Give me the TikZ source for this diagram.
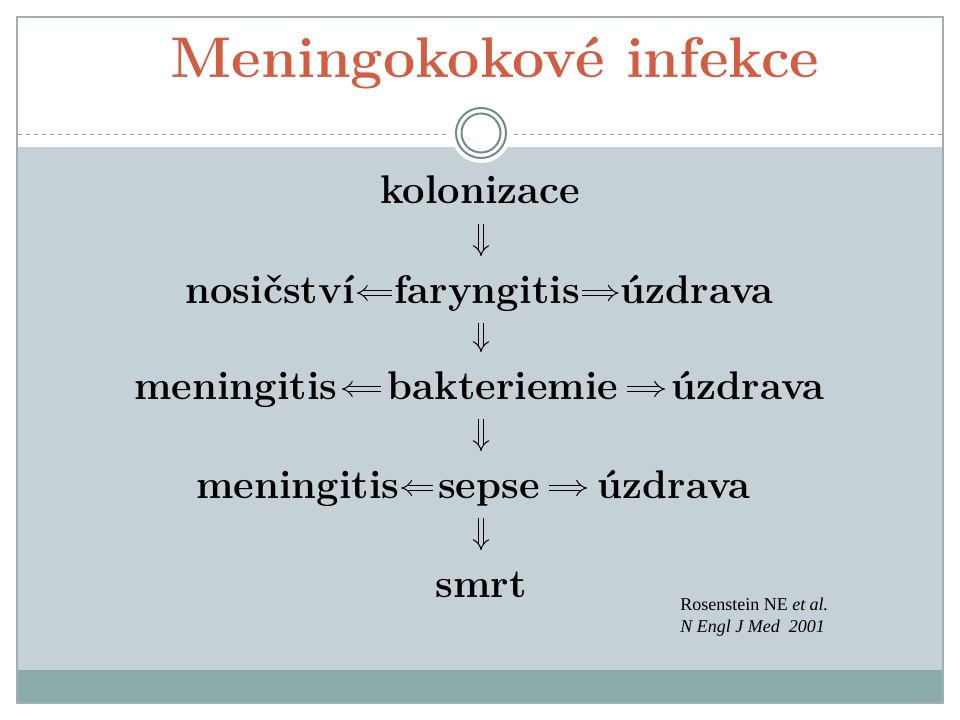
\documentclass[tikz,border=0pt]{standalone}
\usepackage{fontspec}
\newfontfamily\citefont{Liberation Serif}
\usetikzlibrary{positioning,arrows.meta}

\definecolor{titlered}{RGB}{209,94,66}
\definecolor{bodyblue}{RGB}{197,209,214}
\definecolor{bandteal}{RGB}{139,170,170}
\definecolor{framegrey}{RGB}{160,175,178}
\definecolor{ringgrey}{RGB}{112,140,140}

\tikzstyle{stage}=[font=\fontsize{30}{36}\selectfont\bfseries,anchor=base,inner sep=0pt,
    text height=18pt,text depth=3pt]
\tikzstyle{impl}=[double=bodyblue,double distance=3.6pt,line width=0.75pt,-{Implies},
    shorten <=1.5pt,shorten >=1.5pt]
\tikzstyle{down}=[impl,shorten <=12pt,shorten >=17pt]

\begin{document}
\begin{tikzpicture}[x=0.75pt,y=-0.75pt]
        \useasboundingbox (0,0) rectangle (960,720);
        % slide
        \fill[bodyblue] (17,147) rectangle (943,670);
        \fill[bandteal] (17,670) rectangle (943,703);
        \fill[white] (481,133) circle (30);
        \draw[ringgrey!80,dashed,thin] (18,134) -- (448,134);
        \draw[ringgrey!80,dashed,thin] (514,134) -- (942,134);
        \draw[ringgrey,line width=1.5pt] (481,133) circle (25);
        \draw[ringgrey,line width=1.5pt] (481,133) circle (19.5);
        \draw[framegrey,line width=1.5pt] (17,17) rectangle (943,703);

        % title
        \node[font=\fontsize{43}{50}\selectfont\bfseries,text=titlered,anchor=base,inner sep=0pt]
            (title) at (495,78) {Meningokokové infekce};

        % stages
        \coordinate (axis) at (481,0);
        \node[stage] (kolonizace) at (480,204) {kolonizace};

        \node[stage] (nosicstvi) at (270,303) {nosičství};
        \node[stage] (faryngitis) at (487,303) {faryngitis};
        \node[stage] (uzdrava1) at (697,303) {úzdrava};

        \node[stage] (meningitis1) at (236,399) {meningitis};
        \node[stage] (bakteriemie) at (503,399) {bakteriemie};
        \node[stage] (uzdrava2) at (748,399) {úzdrava};

        \node[stage] (meningitis2) at (298,498) {meningitis};
        \node[stage] (sepse) at (489,498) {sepse};
        \node[stage] (uzdrava3) at (674,498) {úzdrava};

        \node[stage] (smrt) at (481,597) {smrt};

        % arrows
        \draw[down] (axis |- kolonizace.south) -- (axis |- faryngitis.north);
        \draw[impl] (faryngitis.west) -- (nosicstvi.east);
        \draw[impl] (faryngitis.east) -- (uzdrava1.west);
        \draw[down] (axis |- faryngitis.south) -- (axis |- bakteriemie.north);
        \draw[impl,shorten <=5pt,shorten >=3pt] (bakteriemie.west) -- (meningitis1.east);
        \draw[impl,shorten <=6pt,shorten >=5pt] (bakteriemie.east) -- (uzdrava2.west);
        \draw[down] (axis |- bakteriemie.south) -- (axis |- sepse.north);
        \draw[impl,shorten <=4pt,shorten >=1pt] (sepse.west) -- (meningitis2.east);
        \draw[impl,shorten <=7pt,shorten >=8pt] (sepse.east) -- (uzdrava3.west);
        \draw[down] (axis |- sepse.south) -- (axis |- smrt.north);

        % citation
        \node[font=\citefont\fontsize{13.5}{16.5}\selectfont,align=left,anchor=base west,inner sep=0pt]
            (cite) at (680,632) {Rosenstein NE \textit{et al.}\\\textit{N Engl J Med\ \ 2001}};
    \end{tikzpicture}
\end{document}
